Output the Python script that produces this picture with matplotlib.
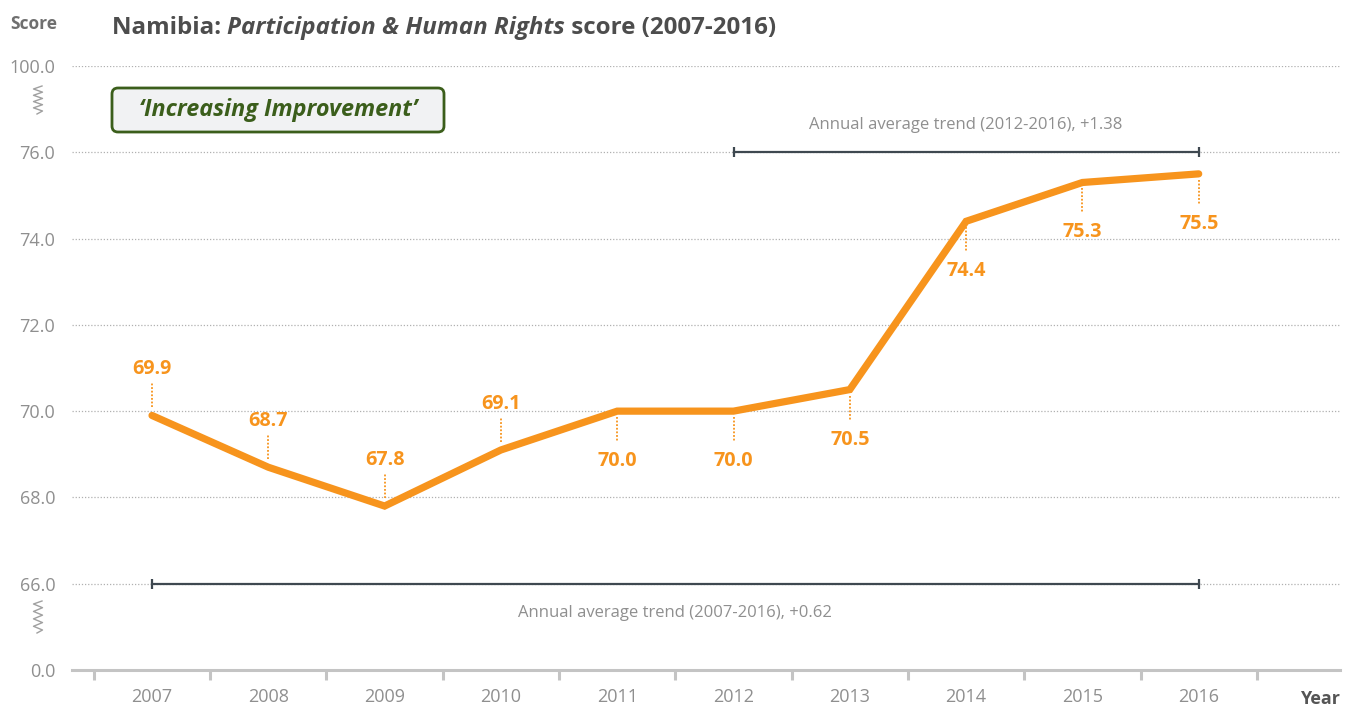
import matplotlib
matplotlib.use("Agg")
import matplotlib.pyplot as plt
from matplotlib.lines import Line2D
from matplotlib.patches import FancyBboxPatch
from matplotlib.transforms import IdentityTransform

plt.rcParams['font.family'] = ['Open Sans', 'DejaVu Sans']

# ---- data ----
years = [2007, 2008, 2009, 2010, 2011, 2012, 2013, 2014, 2015, 2016]
scores = [69.9, 68.7, 67.8, 69.1, 70.0, 70.0, 70.5, 74.4, 75.3, 75.5]
label_side = ['above', 'above', 'above', 'above', 'below', 'below', 'below', 'below', 'below', 'below']
ytick_pos = [64, 66, 68, 70, 72, 74, 76, 78]
ytick_labels = ['0.0', '66.0', '68.0', '70.0', '72.0', '74.0', '76.0', '100.0']
trend_starts = [2007, 2012]
trend_ends = [2016, 2016]
trend_values = ['+0.62', '+1.38']
trend_rows = [66, 76]
trend_text_y = [65.33, 76.63]

ORANGE = '#F7941D'
GRAY_TXT = '#8f8f8f'
DARK = '#3e4850'

W, H = 1352, 709
fig = plt.figure(figsize=(W / 100, H / 100), dpi=100)
L, R, B, T = 72, 1340, 670, 66
ax = fig.add_axes([L / W, 1 - B / H, (R - L) / W, (B - T) / H])
ax.set_xlim(2006.312, 2017.215)
ax.set_ylim(64, 78)
px = (B - T) / 14.0  # pixels per data unit in y

for s in ['top', 'right', 'left']:
    ax.spines[s].set_visible(False)
ax.spines['bottom'].set_color('#c4c4c4')
ax.spines['bottom'].set_linewidth(2.2)

# gridlines
for yv in ytick_pos[1:]:
    ax.axhline(yv, color='#b0b0b0', lw=0.9, ls=(0, (1, 1.5)), zorder=1)

ax.set_yticks(ytick_pos)
ax.set_yticklabels(ytick_labels)
ax.tick_params(axis='y', length=0, pad=12, labelsize=13, labelcolor=GRAY_TXT)
ax.set_xticks(years)
ax.set_xticklabels([str(y) for y in years])
ax.set_xticks([y - 0.5 for y in years] + [years[-1] + 0.5], minor=True)
ax.tick_params(axis='x', which='major', length=0, pad=13, labelsize=13, labelcolor=GRAY_TXT)
ax.tick_params(axis='x', which='minor', length=7, width=2.2, color='#c4c4c4', direction='out')

# trend lines
for s, e, v, ry, ty in zip(trend_starts, trend_ends, trend_values, trend_rows, trend_text_y):
    ax.plot([s, e], [ry, ry], color=DARK, lw=1.6, zorder=3)
    ax.plot([s, e], [ry, ry], ls='none', marker='|', ms=7, mew=1.6, color=DARK, zorder=3)
    ax.text((s + e) / 2, ty, f'Annual average trend ({s}-{e}), {v}', ha='center', va='center',
            fontsize=12, color=GRAY_TXT)

# main line
ax.plot(years, scores, color=ORANGE, lw=5.2, solid_capstyle='round', solid_joinstyle='miter', zorder=4)

# labels with dotted leaders
for x, y, side in zip(years, scores, label_side):
    if side == 'above':
        y0, y1 = y + 8 / px, y + 32 / px
        ax.plot([x, x], [y0, y1], color=ORANGE, lw=1.3, ls=(0, (1, 1)), zorder=4)
        ax.text(x, y + 41 / px, f'{y:.1f}', ha='center', va='baseline', fontsize=14.2,
                fontweight='bold', color=ORANGE)
    else:
        y0, y1 = y - 6 / px, y - 31 / px
        ax.plot([x, x], [y0, y1], color=ORANGE, lw=1.3, ls=(0, (1, 1)), zorder=4)
        ax.text(x, y - 55 / px, f'{y:.1f}', ha='center', va='baseline', fontsize=14.2,
                fontweight='bold', color=ORANGE)

# axis break symbols (spring-like zigzag)
def zigzag(cx, ytop, ybot):
    n = 8
    xs, ys = [cx + 4], [H - (ytop - 3)]
    for i in range(n):
        yy = ytop + (ybot - ytop) * i / (n - 1)
        xs.append(cx + (-4.5 if i % 2 == 0 else 4.5))
        ys.append(H - yy)
    xs.append(cx - 1)
    ys.append(H - (ybot + 3))
    fig.add_artist(Line2D(xs, ys, transform=IdentityTransform(), color='#a0a0a0', lw=1.0))

zigzag(38, 89, 111)
zigzag(38, 604, 630)

# box annotation
box = FancyBboxPatch((112, H - 132), 332, 44, boxstyle='round,pad=0,rounding_size=6',
                     transform=IdentityTransform(), fc='#f1f2f3', ec='#3b5e1b', lw=2.0)
fig.add_artist(box)
fig.text(278 / W, 1 - 110 / H, '\u2018Increasing Improvement\u2019', ha='center', va='center',
         fontsize=16.8, fontweight='bold', fontstyle='italic', color='#3b5e1b')

# title
fig.canvas.draw()
rend = fig.canvas.get_renderer()
x_cur = 112 / W
ty = 1 - 34 / H
parts = [('Namibia: ', 'normal'), ('Participation & Human Rights', 'italic'), (' score (2007-2016)', 'normal')]
for txt, st in parts:
    t = fig.text(x_cur, ty, txt, ha='left', va='baseline', fontsize=17.4, fontweight='bold',
                 fontstyle=st, color='#4d4d4d')
    bb = t.get_window_extent(renderer=rend)
    x_cur += bb.width / W

fig.text(10 / W, 1 - 29 / H, 'Score', ha='left', va='baseline', fontsize=12.5, fontweight='bold', color='#6f6f6f')
fig.text(1340 / W, 1 - 704 / H, 'Year', ha='right', va='baseline', fontsize=13, fontweight='bold', color='#555555')

fig.savefig('out.png', dpi=100)
